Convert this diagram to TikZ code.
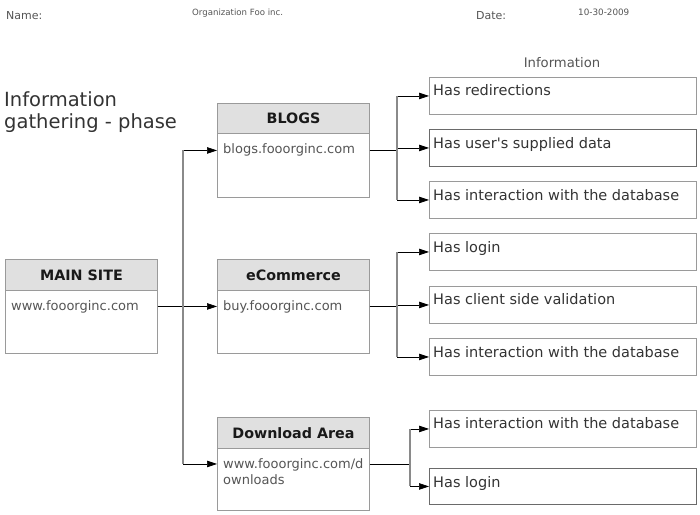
\documentclass[tikz,border=0pt]{standalone}
\usepackage{fontspec}
\setmainfont{DejaVu Sans}
\usetikzlibrary{arrows.meta}
\definecolor{boxgray}{HTML}{9A9A9A}
\definecolor{darkbox}{HTML}{6A6A6A}
\definecolor{hdrgray}{HTML}{E0E0E0}
\definecolor{urlgray}{HTML}{555555}
\definecolor{infotext}{HTML}{333333}
\definecolor{trunkgray}{HTML}{8A8A8A}
\definecolor{headtext}{HTML}{555555}
\tikzset{
  sitebox/.style={draw=boxgray, line width=0.9pt, anchor=north west, inner sep=0pt, minimum width=152pt},
  sitehdr/.style={draw=boxgray, fill=hdrgray, line width=0.9pt, anchor=north west, inner sep=0pt,
    minimum width=152pt, minimum height=31pt, text=black!90, font=\bfseries\fontsize{14.3}{16}\selectfont},
  urltext/.style={anchor=base west, inner sep=0pt, text=urlgray, font=\fontsize{13}{16}\selectfont},
  infobox/.style={draw=boxgray, line width=0.9pt, anchor=north west, inner sep=0pt, minimum width=267pt, minimum height=37pt},
  infotxt/.style={anchor=base west, inner sep=0pt, text=infotext, font=\fontsize{14.5}{17}\selectfont},
  conn/.style={-{Triangle[length=10pt,width=6.5pt]}, black, line width=0.7pt},
  trunk/.style={trunkgray, line width=1.1pt},
  hdrlabel/.style={anchor=base west, inner sep=0pt, text=headtext},
}
\begin{document}
\begin{tikzpicture}[x=1pt,y=-1pt]
\useasboundingbox (0,0) rectangle (700,514);

% page header
\node[hdrlabel, font=\fontsize{11}{13}\selectfont] (name) at (6,19) {Name:};
\node[hdrlabel, font=\fontsize{8.6}{10}\selectfont] (org) at (192,16) {Organization Foo inc.};
\node[hdrlabel, font=\fontsize{11}{13}\selectfont] (date) at (476,19) {Date:};
\node[hdrlabel, font=\fontsize{8.8}{10}\selectfont] (dateval) at (578,16) {10-30-2009};

% title (anchor base = baseline of last line)
\node[anchor=base west, inner sep=0pt, text=infotext, align=left,
  font=\fontsize{19.5}{22}\selectfont] (title) at (4,128) {Information\\gathering - phase};

% column label
\node[anchor=base, inner sep=0pt, text=urlgray, font=\fontsize{13.2}{15}\selectfont] (infolabel) at (562,67) {Information};

% site boxes
\node[sitebox, minimum height=94pt] (main) at (5,259) {};
\node[sitehdr] (mainh) at (5,259) {MAIN SITE};
\node[urltext] (mainurl) at (11,310) {www.fooorginc.com};

\node[sitebox, minimum height=94pt] (blogs) at (217,103) {};
\node[sitehdr, minimum height=30pt] (blogsh) at (217,103) {BLOGS};
\node[urltext] (blogsurl) at (223,153) {blogs.fooorginc.com};

\node[sitebox, minimum height=94pt] (ecom) at (217,259) {};
\node[sitehdr] (ecomh) at (217,259) {eCommerce};
\node[urltext] (ecomurl) at (223,310) {buy.fooorginc.com};

\node[sitebox, minimum height=93pt] (dl) at (217,417) {};
\node[sitehdr] (dlh) at (217,417) {Download Area};
\node[urltext, align=left, font=\fontsize{13}{16}\selectfont] (dlurl) at (223,484) {www.fooorginc.com/d\\ownloads};

% information boxes: blogs
\node[infobox] (b1) at (429,77) {};
\node[infobox, draw=darkbox] (b2) at (429,129) {};
\node[infobox] (b3) at (429,181) {};
\node[infotxt] (b1t) at ([shift={(4,18)}]b1.north west) {Has redirections};
\node[infotxt] (b2t) at ([shift={(4,19)}]b2.north west) {Has user\textquotesingle s supplied data};
\node[infotxt] (b3t) at ([shift={(4,19)}]b3.north west) {Has interaction with the database};

% information boxes: ecommerce
\node[infobox] (e1) at (429,233) {};
\node[infobox] (e2) at (429,286) {};
\node[infobox] (e3) at (429,338) {};
\node[infotxt] (e1t) at ([shift={(4,19)}]e1.north west) {Has login};
\node[infotxt] (e2t) at ([shift={(4,18)}]e2.north west) {Has client side validation};
\node[infotxt] (e3t) at ([shift={(4,19)}]e3.north west) {Has interaction with the database};

% information boxes: download
\node[infobox] (d1) at (429,410) {};
\node[infobox, draw=darkbox, minimum height=36pt] (d2) at (429,468) {};
\node[infotxt] (d1t) at ([shift={(4,18)}]d1.north west) {Has interaction with the database};
\node[infotxt] (d2t) at ([shift={(4,19)}]d2.north west) {Has login};

% trunk positions
\coordinate (tm) at (183,0);
\coordinate (tb) at (397,0);
\coordinate (te) at (397,0);
\coordinate (td) at (410,0);

% connectors from main site
\draw[conn] (main.east) -- (tm |- main.east) |- (blogs.west);
\draw[conn] (main.east) -- (ecom.west);
\draw[conn] (main.east) -- (tm |- main.east) |- (dl.west);
\draw[trunk] (tm |- blogs.west) -- (tm |- dl.west);

% connectors from blogs
\draw[conn] (blogs.east) -- (tb |- blogs.east) |- (b1.west);
\draw[conn] (blogs.east) -- (tb |- blogs.east) |- (b2.west);
\draw[conn] (blogs.east) -- (tb |- blogs.east) |- (b3.west);
\draw[trunk] (tb |- b1.west) -- (tb |- b3.west);

% connectors from ecommerce
\draw[conn] (ecom.east) -- (te |- ecom.east) |- (e1.west);
\draw[conn] (ecom.east) -- (te |- ecom.east) |- (e2.west);
\draw[conn] (ecom.east) -- (te |- ecom.east) |- (e3.west);
\draw[trunk] (te |- e1.west) -- (te |- e3.west);

% connectors from download area
\draw[conn] (dl.east) -- (td |- dl.east) |- (d1.west);
\draw[conn] (dl.east) -- (td |- dl.east) |- (d2.west);
\draw[trunk] (td |- d1.west) -- (td |- d2.west);
\end{tikzpicture}
\end{document}
